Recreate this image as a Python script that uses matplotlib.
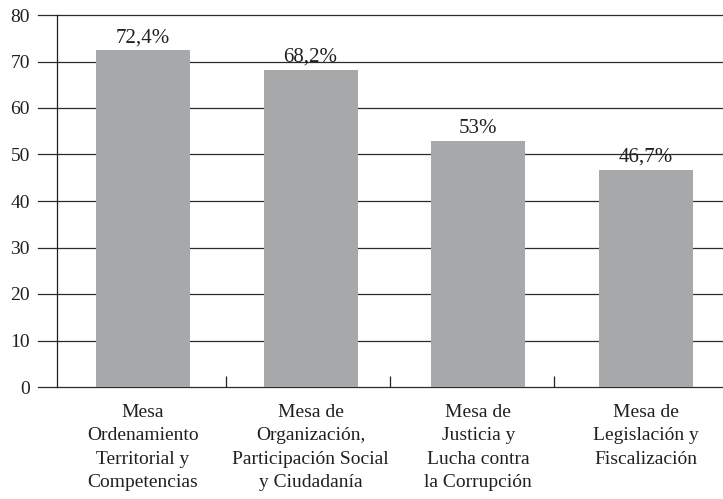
import matplotlib

matplotlib.use("Agg")
import matplotlib.pyplot as plt  # noqa: E402

categories = [
    "Mesa\nOrdenamiento\nTerritorial y\nCompetencias",
    "Mesa de\nOrganización,\nParticipación Social\ny Ciudadanía",
    "Mesa de\nJusticia y\nLucha contra\nla Corrupción",
    "Mesa de\nLegislación y\nFiscalización",
]
values = [72.4, 68.2, 53.0, 46.7]
value_labels = ["72,4%", "68,2%", "53%", "46,7%"]
yticks = [0, 10, 20, 30, 40, 50, 60, 70, 80]

plt.rcParams["font.family"] = ["Liberation Serif", "DejaVu Serif"]
INK = "#231f20"

W, H = 723, 499
fig = plt.figure(figsize=(W / 100, H / 100), dpi=100)
left, right, bottom, top = 59, 730, 387, 15
ax = fig.add_axes([left / W, 1 - bottom / H, (right - left) / W, (bottom - top) / H])

positions = list(range(len(categories)))
ax.bar(positions, values, width=0.56, color="#a7a8aa", zorder=2)
for x, v, lab in zip(positions, values, value_labels):
    ax.text(x, v + 1.7, lab, ha="center", va="baseline", fontsize=15, color=INK, zorder=1)

ax.set_xlim(-0.5, 3.5)
ax.set_ylim(0, 80)

# gridlines run from the tick marks across to the page edge
gx0 = (38 - left) / (right - left)
for t in yticks:
    ax.axhline(t, xmin=gx0, xmax=1, color="#2e2b2c", lw=0.9, clip_on=False, zorder=0)

for s in ["top", "right", "bottom"]:
    ax.spines[s].set_visible(False)
ax.spines["left"].set_position(("outward", 1.5))
ax.spines["left"].set_color(INK)
ax.spines["left"].set_linewidth(0.9)

ax.set_yticks(yticks)
ax.tick_params(axis="y", length=0, pad=19.5, labelsize=14, labelcolor=INK)

# category separators on the x axis
ax.set_xticks([0.496, 1.474, 2.452])
ax.set_xticklabels([])
ax.tick_params(axis="x", direction="in", length=8, width=0.9, color=INK)
for x, lab in zip(positions, categories):
    ax.text(x, -3.6, lab, ha="center", va="top", fontsize=14, color=INK,
            linespacing=1.5, clip_on=False)

fig.savefig("out.png", dpi=100)
